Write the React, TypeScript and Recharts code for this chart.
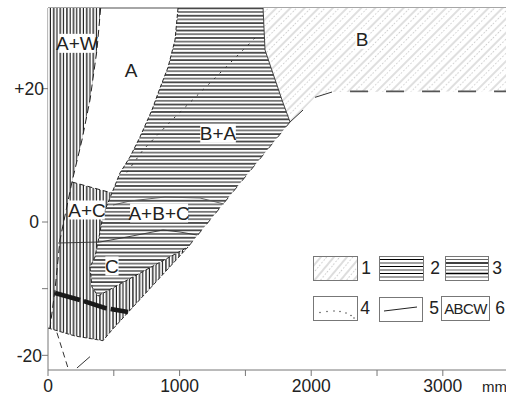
import React from 'react';
import { ScatterChart, Scatter, XAxis, YAxis, ReferenceLine } from 'recharts';

type P = { x: number; y: number };

const X_MAX = 3480;
const Y_MIN = -22.2;
const Y_MAX = 32.1;

const xTicks = [0, 500, 1000, 1500, 2000, 2500, 3000];
const xTickLabels = ['0', '', '1000', '', '2000', '', '3000'];
const yTicks = [-20, -10, 0, 20];
const yTickLabels = ['-20', '', '0', '+20'];

// Regions (polygons, data units: mm / degrees)
const regionB: P[] = [
  { x: 1634, y: 32.1 }, { x: 3480, y: 32.1 }, { x: 3480, y: 19.6 }, { x: 2158, y: 19.5 },
  { x: 2029, y: 18.7 }, { x: 1938, y: 16.8 }, { x: 1839, y: 15.0 }, { x: 1778, y: 18.3 },
  { x: 1649, y: 25.8 },
];
const regionVertical: P[] = [
  { x: 0, y: 32.1 }, { x: 400, y: 32.1 }, { x: 372, y: 25.8 }, { x: 319, y: 18.3 },
  { x: 258, y: 12.3 }, { x: 182, y: 6.0 }, { x: 486, y: 4.35 }, { x: 418, y: 1.05 },
  { x: 395, y: -1.5 }, { x: 357, y: -5.25 }, { x: 319, y: -6.75 }, { x: 334, y: -9.75 },
  { x: 380, y: -11.1 }, { x: 1064, y: -3.75 }, { x: 486, y: -16.2 }, { x: 418, y: -17.8 },
  { x: 205, y: -17.1 }, { x: 0, y: -15.9 },
];
const regionHorizontal: P[] = [
  { x: 988, y: 32.1 }, { x: 1634, y: 32.1 }, { x: 1649, y: 25.8 }, { x: 1778, y: 18.3 },
  { x: 1839, y: 15.0 }, { x: 1064, y: -3.75 }, { x: 380, y: -11.1 }, { x: 334, y: -9.75 },
  { x: 319, y: -6.75 }, { x: 357, y: -5.25 }, { x: 395, y: -1.5 }, { x: 418, y: 1.05 },
  { x: 486, y: 4.35 }, { x: 547, y: 7.35 }, { x: 623, y: 9.75 }, { x: 699, y: 12.75 },
  { x: 790, y: 16.8 }, { x: 851, y: 20.1 }, { x: 912, y: 23.2 }, { x: 965, y: 27.3 },
];

// Boundary lines
const lineAW: P[] = [
  { x: 400, y: 32.1 }, { x: 372, y: 25.8 }, { x: 319, y: 18.3 }, { x: 258, y: 12.3 },
  { x: 182, y: 6.0 }, { x: 91, y: -2.7 }, { x: 53, y: -10.2 }, { x: 15, y: -15.9 },
];
const lineAAC: P[] = [{ x: 182, y: 6.0 }, { x: 486, y: 4.35 }];
const lineALeft: P[] = [
  { x: 988, y: 32.1 }, { x: 965, y: 27.3 }, { x: 912, y: 23.2 }, { x: 851, y: 20.1 },
  { x: 790, y: 16.8 }, { x: 699, y: 12.75 }, { x: 623, y: 9.75 }, { x: 547, y: 7.35 },
  { x: 486, y: 4.35 }, { x: 418, y: 1.05 }, { x: 395, y: -1.5 }, { x: 357, y: -5.25 },
  { x: 319, y: -6.75 }, { x: 334, y: -9.75 }, { x: 380, y: -11.1 },
];
const lineCRight: P[] = [{ x: 380, y: -11.1 }, { x: 1064, y: -3.75 }];
const lineDiag: P[] = [{ x: 1839, y: 15.0 }, { x: 1064, y: -3.75 }];
const lineBRight: P[] = [{ x: 1634, y: 32.1 }, { x: 1649, y: 25.8 }, { x: 1778, y: 18.3 }, { x: 1839, y: 15.0 }];
const lineBv: P[] = [{ x: 1839, y: 15.0 }, { x: 1938, y: 16.8 }];
const lineBs: P[] = [{ x: 2029, y: 18.7 }, { x: 2158, y: 19.5 }];
const lineBDash: P[] = [{ x: 2295, y: 19.6 }, { x: 3480, y: 19.6 }];
const lineVBottom: P[] = [
  { x: 0, y: -15.9 }, { x: 205, y: -17.1 }, { x: 418, y: -17.8 }, { x: 486, y: -16.2 }, { x: 1064, y: -3.75 },
];
const curveLow: P[] = [
  { x: 76, y: -3.15 }, { x: 395, y: -3.0 }, { x: 600, y: -2.25 }, { x: 874, y: -1.2 },
  { x: 1003, y: -1.5 }, { x: 1132, y: -1.95 },
];
const curveHigh: P[] = [
  { x: 494, y: 2.55 }, { x: 623, y: 3.15 }, { x: 889, y: 3.75 }, { x: 1155, y: 3.6 }, { x: 1337, y: 2.7 },
];
const dottedLine: P[] = [
  { x: 1573, y: 27.6 }, { x: 1254, y: 21.3 }, { x: 942, y: 15.3 }, { x: 722, y: 10.8 }, { x: 585, y: 7.05 },
];
const thickLine: P[] = [{ x: 53, y: -10.65 }, { x: 243, y: -11.7 }, { x: 433, y: -12.9 }, { x: 608, y: -13.5 }];
const vLeft: P[] = [{ x: 68, y: -16.6 }, { x: 152, y: -21.9 }];
const vRight: P[] = [{ x: 220, y: -21.9 }, { x: 319, y: -20.2 }];

// Region labels
const labelTexts = ['A+W', 'A', 'B+A', 'B', 'A+C', 'A+B+C', 'C'];
const labelX = [220, 631, 1292, 2386, 296, 844, 486];
const labelY = [26.8, 22.8, 13.3, 27.4, 1.8, 1.35, -6.6];
const labelData = labelTexts.map((t, i) => ({ x: labelX[i], y: labelY[i], text: t }));

const FONT = '"Liberation Sans", Arial, sans-serif';
const TXT = '#222';

const noDot = () => <g />;

const pathOf = (pts: any[], close: boolean) =>
  pts
    .filter((q) => q && q.x != null && q.y != null)
    .map((q, i) => `${i ? 'L' : 'M'}${q.x},${q.y}`)
    .join(' ') + (close ? ' Z' : '');

const polygon = (fill: string) => (p: any) => <path d={pathOf(p.points || [], true)} fill={fill} stroke="none" />;
const polyline = (stroke: string, width: number, dash?: string) => (p: any) => (
  <path d={pathOf(p.points || [], false)} fill="none" stroke={stroke} strokeWidth={width} strokeDasharray={dash} />
);

const LabelShape = (props: any) => {
  const { cx, cy, payload } = props;
  const t: string = payload.text;
  const w = t.length * 11.2 + 2;
  return (
    <g>
      <rect x={cx - w / 2} y={cy - 9.5} width={w} height={19} fill="#fff" />
      <text x={cx} y={cy} dy="0.36em" textAnchor="middle" fontSize={19} fontFamily={FONT} fill={TXT}>
        {t}
      </text>
    </g>
  );
};

const XTick = (props: any) => {
  const { x, y, payload } = props;
  const i = xTicks.indexOf(payload.value);
  const label = xTickLabels[i] ?? '';
  return (
    <text x={x} y={y} dy="0.8em" textAnchor="middle" fontSize={17.5} fontFamily={FONT} fill={TXT}>
      {label}
    </text>
  );
};

const YTick = (props: any) => {
  const { x, y, payload } = props;
  const i = yTicks.indexOf(payload.value);
  const label = yTickLabels[i] ?? '';
  const dx = label === '+20' ? 4 : label === '0' ? -1 : 2;
  return (
    <text x={x + dx} y={y} dy="0.36em" textAnchor="end" fontSize={17.5} fontFamily={FONT} fill={TXT}>
      {label}
    </text>
  );
};

const MmLabel = (props: any) => {
  const vb = props.viewBox || {};
  return (
    <text x={(vb.x ?? 48) + (vb.width ?? 458) - 24} y={(vb.y ?? 370) + 22} fontSize={15} fontFamily={FONT} fill={TXT}>
      mm
    </text>
  );
};

const Defs = () => (
  <defs>
    <pattern id="pB" patternUnits="userSpaceOnUse" width="10" height="10" patternTransform="rotate(45)">
      <rect width="10" height="10" fill="#fff" />
      <line x1="1" y1="0" x2="1" y2="10" stroke="#b0b0b0" strokeWidth="0.8" />
      <line x1="5.5" y1="0" x2="5.5" y2="10" stroke="#c0c0c0" strokeWidth="0.8" strokeDasharray="1.5 2" />
    </pattern>
    <pattern id="pV" patternUnits="userSpaceOnUse" width="6.6" height="10">
      <rect width="6.6" height="10" fill="#fff" />
      <rect x="0.3" y="0" width="1.2" height="10" fill="#000" />
      <rect x="3.6" y="0" width="1.1" height="10" fill="#111" />
    </pattern>
    <pattern id="pH" patternUnits="userSpaceOnUse" width="10" height="7.4">
      <rect width="10" height="7.4" fill="#fff" />
      <rect x="0" y="0.3" width="10" height="1.3" fill="#000" />
      <rect x="0" y="4.0" width="10" height="1.2" fill="#333" />
    </pattern>
  </defs>
);

const LegendBox = () => {
  const box = { fill: '#fff', stroke: '#777', strokeWidth: 1 } as const;
  const t = { fontSize: 17.5, fontFamily: FONT, fill: TXT } as const;
  const hl = [3, 6.5, 10, 13.5, 17, 20.5];
  return (
    <svg width={506} height={399} style={{ position: 'absolute', left: 0, top: 0, pointerEvents: 'none' }}>
      <defs>
        <pattern id="pBL" patternUnits="userSpaceOnUse" width="10" height="10" patternTransform="rotate(40)">
          <rect width="10" height="10" fill="#fff" />
          <line x1="1" y1="0" x2="1" y2="10" stroke="#aaa" strokeWidth="0.8" />
          <line x1="5.5" y1="0" x2="5.5" y2="10" stroke="#bbb" strokeWidth="0.8" strokeDasharray="1.5 2" />
        </pattern>
      </defs>
      <rect x={313.5} y={256.5} width={44} height={24} fill="url(#pBL)" stroke="#777" />
      <text x={366} y={268} dy="0.36em" textAnchor="middle" {...t}>1</text>

      <rect x={379.5} y={256.5} width={44} height={24} {...box} />
      {hl.map((d, i) => (
        <line key={'a' + i} x1={380} x2={423} y1={256.5 + d} y2={256.5 + d} stroke={i % 2 ? '#444' : '#000'} strokeWidth={1.1} />
      ))}
      <text x={435} y={268} dy="0.36em" textAnchor="middle" {...t}>2</text>

      <rect x={445.5} y={256.5} width={43} height={24} {...box} />
      {hl.map((d, i) => (
        <line key={'b' + i} x1={446} x2={488} y1={256.5 + d} y2={256.5 + d} stroke={i % 3 === 1 ? '#000' : '#666'} strokeWidth={i % 3 === 1 ? 1.4 : 1} />
      ))}
      <text x={497} y={268} dy="0.36em" textAnchor="middle" {...t}>3</text>

      <rect x={313.5} y={296.5} width={44} height={24} {...box} />
      {[[320, 312.5], [327, 311.5], [334, 311], [340, 311.5], [346, 313], [351, 315.5], [354, 318]].map((p, i) => (
        <circle key={'d' + i} cx={p[0]} cy={p[1]} r={0.7} fill="#333" />
      ))}
      <text x={365} y={308} dy="0.36em" textAnchor="middle" {...t}>4</text>

      <rect x={379.5} y={297.5} width={43} height={24} {...box} />
      <line x1={384} y1={311} x2={417} y2={307} stroke="#222" strokeWidth={1} />
      <text x={434} y={308} dy="0.36em" textAnchor="middle" {...t}>5</text>

      <rect x={441.5} y={296.5} width={48} height={24} {...box} />
      <text x={465.5} y={308.5} dy="0.36em" textAnchor="middle" fontSize={15} fontFamily={FONT} fill={TXT} letterSpacing={-0.6}>
        ABCW
      </text>
      <text x={500} y={308} dy="0.36em" textAnchor="middle" {...t}>6</text>
    </svg>
  );
};

export default function App() {
  return (
    <div style={{ position: 'absolute', left: 0, top: 0, width: 506, height: 399, background: '#fff' }}>
      <ScatterChart width={506} height={399} margin={{ top: 8, right: 0, bottom: 0, left: 0 }}>
        <Defs />
        <XAxis
          type="number"
          dataKey="x"
          domain={[0, X_MAX]}
          allowDataOverflow
          ticks={xTicks}
          tick={<XTick />}
          tickSize={6}
          height={29}
          stroke="#777"
          interval={0}
          label={<MmLabel />}
        />
        <YAxis
          type="number"
          dataKey="y"
          domain={[Y_MIN, Y_MAX]}
          allowDataOverflow
          ticks={yTicks}
          tick={<YTick />}
          tickSize={6}
          width={48}
          stroke="#777"
          interval={0}
        />
        <ReferenceLine y={Y_MAX} stroke="#888" strokeWidth={1.5} />

        <Scatter data={regionB} line={polygon('url(#pB)')} shape={noDot} isAnimationActive={false} />
        <Scatter data={regionVertical} line={polygon('url(#pV)')} shape={noDot} isAnimationActive={false} />
        <Scatter data={regionHorizontal} line={polygon('url(#pH)')} shape={noDot} isAnimationActive={false} />

        <Scatter data={lineAW} line={polyline('#222', 1, '7 4')} shape={noDot} isAnimationActive={false} />
        <Scatter data={lineAAC} line={polyline('#222', 1, '5 3')} shape={noDot} isAnimationActive={false} />
        <Scatter data={lineALeft} line={polyline('#222', 1, '4 2')} shape={noDot} isAnimationActive={false} />
        <Scatter data={lineCRight} line={polyline('#222', 1, '4 2')} shape={noDot} isAnimationActive={false} />
        <Scatter data={lineDiag} line={polyline('#333', 1, '6 8')} shape={noDot} isAnimationActive={false} />
        <Scatter data={lineBRight} line={polyline('#333', 0.9)} shape={noDot} isAnimationActive={false} />
        <Scatter data={lineBv} line={polyline('#333', 1)} shape={noDot} isAnimationActive={false} />
        <Scatter data={lineBs} line={polyline('#333', 1)} shape={noDot} isAnimationActive={false} />
        <Scatter data={lineBDash} line={polyline('#555', 1.6, '18 18')} shape={noDot} isAnimationActive={false} />
        <Scatter data={lineVBottom} line={polyline('#333', 1, '4 2')} shape={noDot} isAnimationActive={false} />
        <Scatter data={curveLow} line={polyline('#333', 0.9)} shape={noDot} isAnimationActive={false} />
        <Scatter data={curveHigh} line={polyline('#555', 0.9)} shape={noDot} isAnimationActive={false} />
        <Scatter data={dottedLine} line={polyline('#333', 1, '2 6')} shape={noDot} isAnimationActive={false} />
        <Scatter data={thickLine} line={polyline('#1a1a1a', 4.5, '26 4 24 4 30')} shape={noDot} isAnimationActive={false} />
        <Scatter data={vLeft} line={polyline('#333', 1, '6 4')} shape={noDot} isAnimationActive={false} />
        <Scatter data={vRight} line={polyline('#333', 1)} shape={noDot} isAnimationActive={false} />

        <Scatter data={labelData} shape={<LabelShape />} isAnimationActive={false} />
      </ScatterChart>
      <LegendBox />
    </div>
  );
}
